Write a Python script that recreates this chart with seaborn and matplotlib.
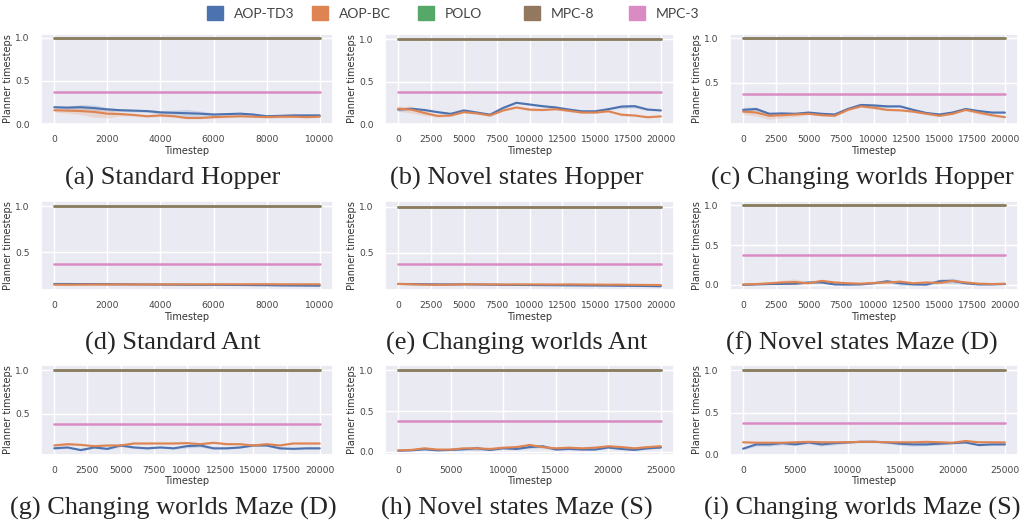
import matplotlib
matplotlib.use("Agg")
import matplotlib.pyplot as plt
from matplotlib.patches import Patch
from matplotlib.ticker import MultipleLocator
import numpy as np
import seaborn as sns

sns.set_theme(style="darkgrid")

methods = ["AOP-TD3", "AOP-BC", "POLO", "MPC-8", "MPC-3"]
pal = sns.color_palette("deep")
colors = {"AOP-TD3": pal[0], "AOP-BC": pal[1], "POLO": pal[2], "MPC-8": pal[5], "MPC-3": pal[6]}

captions = ["(a) Standard Hopper", "(b) Novel states Hopper", "(c) Changing worlds Hopper",
            "(d) Standard Ant", "(e) Changing worlds Ant", "(f) Novel states Maze (D)",
            "(g) Changing worlds Maze (D)", "(h) Novel states Maze (S)", "(i) Changing worlds Maze (S)"]
max_steps = [10000, 20000, 20000, 10000, 20000, 20000, 20000, 25000, 25000]

polo_level = 1.0
mpc8_level = 1.0
mpc3_level = 0.375

# mean and half-width of the band, 21 evenly spaced points per run
a_td3 = [0.195, 0.19, 0.195, 0.185, 0.17, 0.16, 0.155, 0.15, 0.135, 0.13, 0.125,
         0.12, 0.11, 0.115, 0.12, 0.11, 0.09, 0.095, 0.10, 0.10, 0.10]
a_td3_sd = [0.015, 0.02, 0.03, 0.035, 0.02, 0.015, 0.015, 0.015, 0.02, 0.03, 0.045,
            0.03, 0.02, 0.015, 0.015, 0.015, 0.01, 0.01, 0.015, 0.01, 0.01]
a_bc = [0.16, 0.155, 0.15, 0.14, 0.12, 0.115, 0.105, 0.09, 0.10, 0.09, 0.07,
        0.07, 0.08, 0.085, 0.09, 0.085, 0.08, 0.085, 0.085, 0.08, 0.085]
a_bc_sd = [0.02, 0.03, 0.04, 0.06, 0.05, 0.02, 0.015, 0.01, 0.015, 0.01, 0.01,
           0.01, 0.015, 0.01, 0.01, 0.01, 0.01, 0.015, 0.01, 0.01, 0.01]

b_td3 = [0.17, 0.18, 0.165, 0.14, 0.12, 0.16, 0.135, 0.11, 0.19, 0.25, 0.23,
         0.21, 0.195, 0.17, 0.15, 0.15, 0.175, 0.205, 0.21, 0.17, 0.16]
b_td3_sd = [0.02, 0.015, 0.01, 0.01, 0.01, 0.01, 0.01, 0.01, 0.01, 0.01, 0.01,
            0.01, 0.01, 0.01, 0.01, 0.01, 0.01, 0.02, 0.02, 0.01, 0.01]
b_bc = [0.18, 0.17, 0.13, 0.095, 0.10, 0.14, 0.125, 0.10, 0.16, 0.195, 0.17,
        0.165, 0.175, 0.155, 0.135, 0.135, 0.15, 0.11, 0.10, 0.08, 0.09]
b_bc_sd = [0.03, 0.04, 0.03, 0.015, 0.01, 0.01, 0.01, 0.01, 0.01, 0.01, 0.015,
           0.01, 0.01, 0.01, 0.01, 0.01, 0.01, 0.015, 0.01, 0.01, 0.01]

c_td3 = [0.19, 0.20, 0.146, 0.15, 0.146, 0.16, 0.146, 0.138, 0.20, 0.246, 0.24,
         0.23, 0.23, 0.19, 0.155, 0.138, 0.16, 0.20, 0.177, 0.16, 0.16]
c_td3_sd = [0.03, 0.02, 0.01, 0.01, 0.01, 0.01, 0.01, 0.01, 0.01, 0.015, 0.02,
            0.015, 0.01, 0.01, 0.01, 0.01, 0.01, 0.01, 0.01, 0.01, 0.01]
c_bc = [0.17, 0.16, 0.123, 0.13, 0.138, 0.146, 0.13, 0.123, 0.19, 0.23, 0.215,
        0.19, 0.185, 0.17, 0.146, 0.123, 0.146, 0.19, 0.16, 0.13, 0.108]
c_bc_sd = [0.03, 0.04, 0.04, 0.03, 0.025, 0.01, 0.01, 0.01, 0.01, 0.01, 0.02,
           0.01, 0.01, 0.01, 0.01, 0.01, 0.01, 0.01, 0.02, 0.015, 0.01]

d_td3 = [0.158, 0.158, 0.157, 0.157, 0.156, 0.155, 0.154, 0.153, 0.152, 0.151, 0.15,
         0.149, 0.149, 0.148, 0.147, 0.146, 0.145, 0.143, 0.142, 0.141, 0.14]
d_td3_sd = [0.005] * 21
d_bc = [0.15, 0.15, 0.151, 0.152, 0.152, 0.153, 0.153, 0.153, 0.154, 0.154, 0.154,
        0.154, 0.155, 0.155, 0.155, 0.156, 0.156, 0.155, 0.155, 0.155, 0.155]
d_bc_sd = [0.004] * 21

e_td3 = [0.16, 0.158, 0.157, 0.155, 0.155, 0.156, 0.154, 0.152, 0.15, 0.149, 0.148,
         0.147, 0.146, 0.145, 0.144, 0.143, 0.142, 0.14, 0.139, 0.137, 0.135]
e_td3_sd = [0.005] * 21
e_bc = [0.16, 0.156, 0.152, 0.15, 0.152, 0.156, 0.155, 0.155, 0.154, 0.155, 0.155,
        0.155, 0.154, 0.155, 0.154, 0.153, 0.152, 0.152, 0.15, 0.149, 0.148]
e_bc_sd = [0.005] * 21

f_td3 = [0.0, 0.005, 0.01, 0.012, 0.015, 0.03, 0.03, 0.005, 0.003, 0.005, 0.02,
         0.045, 0.02, 0.005, 0.003, 0.045, 0.05, 0.02, 0.005, 0.005, 0.01]
f_td3_sd = [0.005, 0.005, 0.01, 0.01, 0.01, 0.01, 0.01, 0.005, 0.005, 0.005, 0.01,
            0.015, 0.03, 0.01, 0.01, 0.03, 0.035, 0.015, 0.005, 0.005, 0.005]
f_bc = [0.005, 0.01, 0.02, 0.03, 0.035, 0.02, 0.05, 0.03, 0.02, 0.015, 0.025,
        0.03, 0.04, 0.02, 0.03, 0.025, 0.05, 0.03, 0.015, 0.01, 0.015]
f_bc_sd = [0.005, 0.01, 0.015, 0.03, 0.04, 0.01, 0.015, 0.01, 0.01, 0.01, 0.01,
           0.015, 0.02, 0.01, 0.01, 0.01, 0.02, 0.01, 0.01, 0.005, 0.005]

g_td3 = [0.10, 0.11, 0.08, 0.11, 0.094, 0.133, 0.11, 0.10, 0.11, 0.10, 0.125,
         0.133, 0.10, 0.10, 0.11, 0.133, 0.133, 0.10, 0.094, 0.10, 0.10]
g_td3_sd = [0.01, 0.01, 0.01, 0.01, 0.01, 0.015, 0.01, 0.01, 0.01, 0.01, 0.02,
            0.02, 0.01, 0.01, 0.01, 0.01, 0.01, 0.01, 0.01, 0.01, 0.01]
g_bc = [0.133, 0.148, 0.14, 0.125, 0.133, 0.133, 0.156, 0.156, 0.156, 0.156, 0.16,
        0.148, 0.164, 0.148, 0.148, 0.133, 0.148, 0.133, 0.156, 0.156, 0.156]
g_bc_sd = [0.01, 0.015, 0.01, 0.01, 0.01, 0.01, 0.01, 0.01, 0.01, 0.01, 0.01,
           0.01, 0.01, 0.01, 0.01, 0.01, 0.01, 0.01, 0.01, 0.01, 0.01]

h_td3 = [0.016, 0.02, 0.033, 0.02, 0.025, 0.033, 0.045, 0.025, 0.045, 0.037, 0.06,
         0.07, 0.03, 0.037, 0.03, 0.03, 0.055, 0.037, 0.025, 0.045, 0.055]
h_td3_sd = [0.005, 0.005, 0.005, 0.005, 0.005, 0.01, 0.03, 0.005, 0.01, 0.01, 0.015,
            0.02, 0.01, 0.005, 0.005, 0.005, 0.01, 0.005, 0.005, 0.01, 0.01]
h_bc = [0.02, 0.025, 0.045, 0.03, 0.03, 0.045, 0.045, 0.037, 0.053, 0.06, 0.086,
        0.06, 0.045, 0.053, 0.045, 0.053, 0.07, 0.06, 0.045, 0.06, 0.07]
h_bc_sd = [0.005, 0.005, 0.01, 0.005, 0.005, 0.01, 0.01, 0.01, 0.01, 0.01, 0.015,
           0.01, 0.01, 0.01, 0.01, 0.01, 0.015, 0.01, 0.01, 0.01, 0.02]

i_td3 = [0.074, 0.125, 0.125, 0.14, 0.125, 0.148, 0.125, 0.14, 0.148, 0.156, 0.156,
         0.148, 0.133, 0.125, 0.125, 0.133, 0.14, 0.148, 0.117, 0.125, 0.125]
i_td3_sd = [0.01, 0.02, 0.02, 0.02, 0.015, 0.015, 0.02, 0.02, 0.01, 0.01, 0.01,
            0.01, 0.02, 0.02, 0.015, 0.015, 0.01, 0.01, 0.01, 0.01, 0.01]
i_bc = [0.15, 0.145, 0.145, 0.145, 0.15, 0.155, 0.15, 0.15, 0.15, 0.155, 0.155,
        0.15, 0.15, 0.15, 0.155, 0.15, 0.145, 0.165, 0.15, 0.15, 0.148]
i_bc_sd = [0.008] * 21

td3_runs = [a_td3, b_td3, c_td3, d_td3, e_td3, f_td3, g_td3, h_td3, i_td3]
td3_sds = [a_td3_sd, b_td3_sd, c_td3_sd, d_td3_sd, e_td3_sd, f_td3_sd, g_td3_sd, h_td3_sd, i_td3_sd]
bc_runs = [a_bc, b_bc, c_bc, d_bc, e_bc, f_bc, g_bc, h_bc, i_bc]
bc_sds = [a_bc_sd, b_bc_sd, c_bc_sd, d_bc_sd, e_bc_sd, f_bc_sd, g_bc_sd, h_bc_sd, i_bc_sd]

W, H = 1023, 527
col_lr = [(41, 333), (385, 674), (730, 1018)]
row_tb = [(34, 124), (201, 290), (365, 455)]
cap_x = [173, 517, 862]
cap_y = [178, 343, 508]
ylims = [(0.0, 1.045), (0.0, 1.06), (0.03, 1.05),
         (0.093, 1.055), (0.094, 1.06), (-0.065, 1.055),
         (0.023, 1.06), (-0.037, 1.066), (0.0, 1.06)]
tick_step = {10000: 2000, 20000: 2500, 25000: 5000}

fig = plt.figure(figsize=(W / 100, H / 100), dpi=100)

for k in range(9):
    r, c = divmod(k, 3)
    l, rr = col_lr[c]
    t, b = row_tb[r]
    ax = fig.add_axes([l / W, 1 - b / H, (rr - l) / W, (b - t) / H])
    x = np.linspace(0, max_steps[k], 21)
    for name, mean, sd in [("AOP-TD3", td3_runs[k], td3_sds[k]), ("AOP-BC", bc_runs[k], bc_sds[k])]:
        mean = np.array(mean)
        sd = np.array(sd)
        sns.lineplot(x=x, y=mean, ax=ax, color=colors[name], lw=1.5)
        ax.fill_between(x, mean - sd, mean + sd, color=colors[name], alpha=0.2, lw=0)
    for name, level in [("POLO", polo_level), ("MPC-8", mpc8_level), ("MPC-3", mpc3_level)]:
        sns.lineplot(x=x, y=np.full(len(x), level), ax=ax, color=colors[name], lw=1.8)
    ax.set_yticks([0.0, 0.5, 1.0])
    ax.set_ylim(*ylims[k])
    ax.xaxis.set_major_locator(MultipleLocator(tick_step[max_steps[k]]))
    ax.set_xlim(-0.05 * max_steps[k], 1.05 * max_steps[k])
    ax.tick_params(labelsize=6.6, pad=2, colors="#444444")
    ax.set_xlabel("Timestep", fontsize=7, labelpad=1, color="#333333")
    ax.set_ylabel("Planner timesteps", fontsize=7, labelpad=1.5, color="#333333")
    fig.text(cap_x[c] / W, 1 - cap_y[r] / H, captions[k], ha="center", va="center",
             fontsize=19, family="Liberation Serif")

# legend: evenly spaced entries along the top
legend_x = [211, 316, 422, 528, 633]
for m, lx in zip(methods, legend_x):
    fig.legend(handles=[Patch(color=colors[m], label=m)], loc="center left",
               bbox_to_anchor=(lx / W - 0.004, 1 - 13 / H), frameon=False,
               prop={"family": "Lato", "size": 10}, handlelength=1.15, handleheight=1.15,
               handletextpad=0.8, borderpad=0, borderaxespad=0, labelcolor="#444444")

fig.savefig("out.png", dpi=100, facecolor="white")
